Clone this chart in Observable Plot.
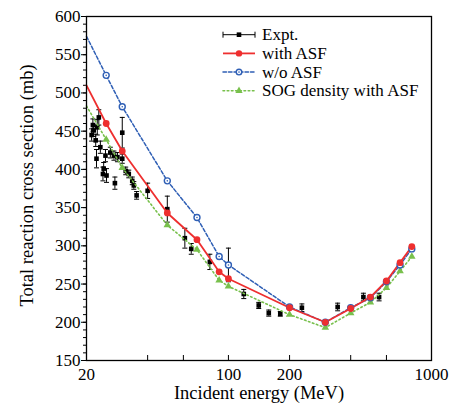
<!DOCTYPE html>
<html><head><meta charset="utf-8">
<script src="https://cdn.jsdelivr.net/npm/d3@7"></script>
<script src="https://cdn.jsdelivr.net/npm/@observablehq/plot@0.6"></script>
<style>body{margin:0;background:#fff}</style>
</head><body><div id="chart"></div>
<script>
// Model curves (MeV, mb)
const modelEnergy = [20, 25, 30, 50, 70, 90, 100, 200, 300, 400, 500, 600, 700, 800];
const withASF = [510, 460, 424, 343, 308, 266, 257, 219, 200, 218, 233, 254, 278, 299];
const woASF   = [574, 523, 482, 385, 337, 286, 275, 220, 200, 219, 232, 253, 275, 296];
const sogASF  = [483, 439, 402, 327, 295, 255, 247, 210, 193, 212, 226, 245, 267, 286];

// Experimental data
const exptEnergy = [21.2, 21.5, 21.7, 22.2, 22.4, 22.6, 23.0, 23.4, 24.1, 24.3, 24.8, 25.1, 26.2, 27.3, 27.6, 28.4, 30.0, 30.0, 31.2, 32.3, 33.6, 34.2, 35.3, 40, 50, 61, 65.6, 81, 100, 119, 141, 158, 180, 230, 345, 462, 552];
const exptSigma  = [445, 458, 451, 438, 414, 455, 468, 429, 394, 401, 418, 392, 422, 418, 382, 416, 448, 414, 398, 394, 385, 379, 366, 372, 348, 310, 296, 279, 275, 237, 222, 212, 211, 219, 220, 233, 233];
const exptError  = [8, 8, 8, 8, 12, 10, 10, 8, 9, 8, 8, 9, 7, 6, 8, 6, 20, 6, 5, 5, 5, 5, 5, 10, 17, 13, 7, 10, 22, 6, 4, 4, 3, 5, 5, 5, 5];

const xTicks = [20, 40, 60, 100, 200, 400, 600, 1000];
const yTicks = d3.range(150, 601, 50);
const yMinor = d3.range(150, 601, 10);

const seriesNames = ["Expt.", "with ASF", "w/o ASF", "SOG density with ASF"];
const colors = {red: "#ee2f2f", blue: "#2f5fb5", green: "#78c04c"};

const models = modelEnergy.map((E, i) => ({E, a: withASF[i], b: woASF[i], c: sogASF[i]}));
const markers = models.filter(d => d.E > 20);
const expt = exptEnergy.map((E, i) => ({E, s: exptSigma[i], e: exptError[i]}));
const caps = expt.flatMap(d => [{E: d.E, y: d.s - d.e}, {E: d.E, y: d.s + d.e}]);

const capSymbol = {draw(ctx, size) { const r = Math.sqrt(size / Math.PI); ctx.moveTo(-r, 0); ctx.lineTo(r, 0); }};
const font = "'Liberation Serif', 'Times New Roman', serif";

const svg = Plot.plot({
  width: 454, height: 417,
  marginLeft: 86, marginRight: 23, marginTop: 16, marginBottom: 57,
  style: {fontFamily: font, fontSize: "17px", color: "black", background: "white"},
  x: {type: "log", domain: [20, 1000]},
  y: {domain: [150, 600]},
  marks: [
    Plot.axisY(yMinor, {tickSize: 3, tickFormat: () => "", strokeWidth: 1}),
    Plot.axisY(yTicks, {tickSize: 5, tickPadding: 1, fontSize: 17, label: null, strokeWidth: 1}),
    Plot.axisX(xTicks, {tickSize: 0, tickPadding: 7, fontSize: 17, label: null, tickFormat: d => String(d)}),
    Plot.tickX(xTicks, {x: d => d, insetTop: 339, stroke: "black", strokeWidth: 1}),
    // experiment
    Plot.ruleX(expt, {x: "E", y1: d => d.s - d.e, y2: d => d.s + d.e, stroke: "black", strokeWidth: 1}),
    Plot.dot(caps, {x: "E", y: "y", symbol: capSymbol, r: 2.5, stroke: "black", fill: "none", strokeWidth: 1}),
    Plot.dot(expt, {x: "E", y: "s", symbol: "square", r: 2.6, fill: "black", stroke: "none"}),
    // models
    Plot.line(models, {x: "E", y: "c", stroke: colors.green, strokeWidth: 1.6, strokeDasharray: "1.6,2.6", strokeLinecap: "round"}),
    Plot.line(models, {x: "E", y: "b", stroke: colors.blue, strokeWidth: 1.5, strokeDasharray: "3.5,2"}),
    Plot.line(models, {x: "E", y: "a", stroke: colors.red, strokeWidth: 1.8}),
    Plot.dot(markers, {x: "E", y: "c", symbol: "triangle", r: 2.8, fill: colors.green, stroke: "none"}),
    Plot.dot(markers, {x: "E", y: "b", r: 3, stroke: colors.blue, fill: "white", strokeWidth: 1.4}),
    Plot.dot(markers, {x: "E", y: "b", r: 0.8, fill: colors.blue, stroke: "none"}),
    Plot.dot(markers, {x: "E", y: "a", r: 3.4, fill: colors.red, stroke: "none"}),
    Plot.frame({stroke: "black", strokeWidth: 1.3}),
    Plot.text(["Incident energy (MeV)"], {frameAnchor: "bottom", dy: 38, fontSize: 18.5, fill: "black"}),
    Plot.text(["Total reaction cross section (mb)"], {frameAnchor: "left", textAnchor: "middle", dx: -59, dy: -3, rotate: -90, fontSize: 18.5, fill: "black"})
  ]
});

// Legend
const g = d3.select(svg).append("g").attr("font-family", font).attr("font-size", 17).attr("text-anchor", "start");
const rows = [
  {name: seriesNames[0], color: "black", dash: null, w: 1, sym: "square"},
  {name: seriesNames[1], color: colors.red, dash: null, w: 1.8, sym: "circle"},
  {name: seriesNames[2], color: colors.blue, dash: "3.5,2", w: 1.5, sym: "ring"},
  {name: seriesNames[3], color: colors.green, dash: "1.6,2.6", w: 1.6, sym: "triangle"}
];
rows.forEach((r, i) => {
  const y = 34.7 + i * 18.7, x0 = 223, x1 = 255, xm = 239;
  g.append("line").attr("x1", x0).attr("x2", x1).attr("y1", y).attr("y2", y)
    .attr("stroke", r.color).attr("stroke-width", r.w).attr("stroke-dasharray", r.dash).attr("stroke-linecap", r.dash ? "round" : null);
  if (r.sym === "square") {
    g.append("line").attr("x1", x0).attr("x2", x0).attr("y1", y - 3).attr("y2", y + 3).attr("stroke", "black");
    g.append("line").attr("x1", x1).attr("x2", x1).attr("y1", y - 3).attr("y2", y + 3).attr("stroke", "black");
    g.append("rect").attr("x", xm - 2.3).attr("y", y - 2.3).attr("width", 4.6).attr("height", 4.6).attr("fill", "black");
  } else if (r.sym === "circle") {
    g.append("circle").attr("cx", xm).attr("cy", y).attr("r", 3.2).attr("fill", r.color);
  } else if (r.sym === "ring") {
    g.append("circle").attr("cx", xm).attr("cy", y).attr("r", 2.8).attr("fill", "white").attr("stroke", r.color).attr("stroke-width", 1.4);
    g.append("circle").attr("cx", xm).attr("cy", y).attr("r", 0.8).attr("fill", r.color);
  } else {
    g.append("path").attr("transform", `translate(${xm},${y})`).attr("d", d3.symbol(d3.symbolTriangle, Math.PI * 2.7 * 2.7)()).attr("fill", r.color);
  }
  g.append("text").attr("x", 262).attr("y", y).attr("dy", "0.32em").attr("text-anchor", "start").attr("fill", "black").text(r.name);
});

document.getElementById("chart").appendChild(svg);
</script>
</body></html>
